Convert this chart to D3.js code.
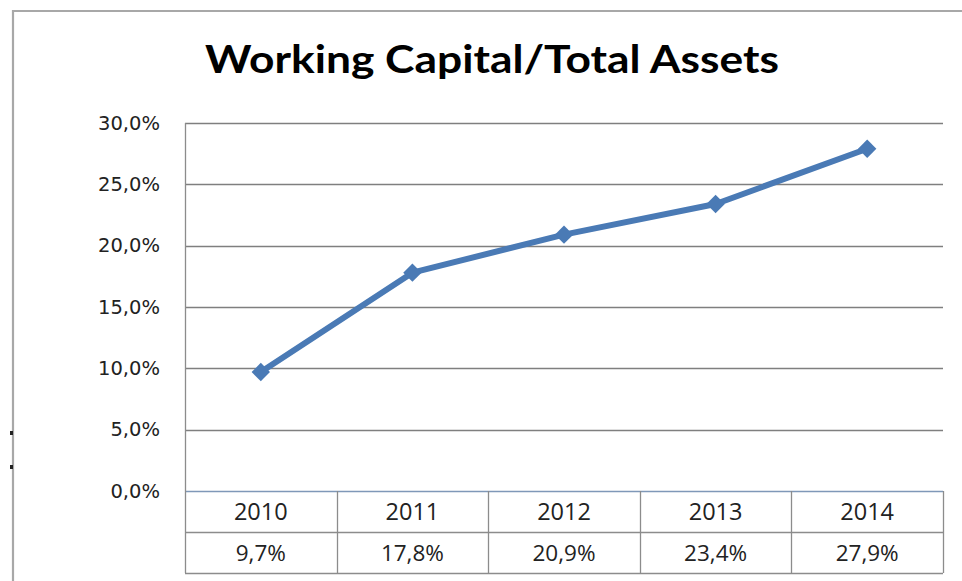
<!DOCTYPE html>
<html><head><meta charset="utf-8">
<script src="https://cdn.jsdelivr.net/npm/d3@7"></script>
<style>body{margin:0;background:#fff}svg{display:block}</style>
</head><body>
<script>
const title = "Working Capital/Total Assets";
const years = ["2010","2011","2012","2013","2014"];
const values = [0.097, 0.178, 0.209, 0.234, 0.279];
const yTicks = [0, 0.05, 0.10, 0.15, 0.20, 0.25, 0.30];

const W = 962, H = 581;
const svg = d3.select("body").append("svg").attr("width", W).attr("height", H);
const locale = d3.formatLocale({decimal: ",", thousands: ".", grouping: [3], currency: ["", "€"]});
const fmt = locale.format(".1%");

// outer chart border
svg.append("path").attr("d", "M13,581 V11 H962").attr("fill", "none").attr("stroke", "#a8a8a8").attr("stroke-width", 2.2);
svg.append("g").selectAll("rect").data([433, 467]).join("rect")
  .attr("x", 10).attr("y", d => d - 2).attr("width", 3).attr("height", 4).attr("fill", "#222");

const pLeft = 185, pRight = 943, pTop = 123, pBottom = 491;
const x = d3.scaleBand().domain(years).range([pLeft, pRight]);
const y = d3.scaleLinear().domain([0, 0.30]).range([pBottom, pTop]);

// title
svg.append("text").attr("x", 492).attr("y", 73).attr("text-anchor", "middle")
  .attr("font-family", "Lato, 'Open Sans', sans-serif").attr("font-weight", "bold")
  .attr("font-size", 37.5).attr("fill", "#000")
  .attr("textLength", 574).attr("lengthAdjust", "spacingAndGlyphs").text(title);

// gridlines
svg.append("g").selectAll("line").data(yTicks.filter(d => d > 0)).join("line")
  .attr("x1", pLeft).attr("x2", pRight).attr("y1", d => Math.round(y(d)) + 0.5).attr("y2", d => Math.round(y(d)) + 0.5)
  .attr("stroke", "#7f7f7f").attr("stroke-width", 1.4);

// y axis labels
const yAxis = d3.axisLeft(y).tickValues(yTicks).tickFormat(fmt).tickSize(0).tickPadding(25);
const gy = svg.append("g").attr("transform", `translate(${pLeft},0)`).call(yAxis);
gy.select(".domain").remove();
gy.selectAll("text").attr("font-family", "'DejaVu Sans', Verdana, sans-serif").attr("font-size", 19.5).attr("fill", "#222");

// data table
const rowH = 41;
const tableTop = pBottom, tableMid = pBottom + rowH, tableBot = pBottom + 2 * rowH;
svg.append("line").attr("x1", pLeft).attr("x2", pRight).attr("y1", tableTop + 0.5).attr("y2", tableTop + 0.5).attr("stroke", "#7f98b8").attr("stroke-width", 1.5);
svg.append("line").attr("x1", pLeft).attr("x2", pRight).attr("y1", tableMid + 0.5).attr("y2", tableMid + 0.5).attr("stroke", "#8c8c8c").attr("stroke-width", 1.3);
svg.append("line").attr("x1", pLeft).attr("x2", pRight).attr("y1", tableBot + 0.5).attr("y2", tableBot + 0.5).attr("stroke", "#8c8c8c").attr("stroke-width", 1.3);
const bounds = years.map(d => x(d)).concat([pRight]);
svg.append("g").selectAll("line").data(bounds).join("line")
  .attr("x1", d => Math.round(d) + 0.5).attr("x2", d => Math.round(d) + 0.5)
  .attr("y1", (d, i) => i === 0 ? pTop : tableTop).attr("y2", tableBot)
  .attr("stroke", "#8c8c8c").attr("stroke-width", 1.3);

const tf = "'Open Sans', 'DejaVu Sans', sans-serif";
svg.append("g").selectAll("text").data(years).join("text")
  .attr("x", d => x(d) + x.bandwidth() / 2).attr("y", tableTop + rowH / 2 + 8.5)
  .attr("text-anchor", "middle").attr("font-family", tf).attr("font-size", 23.5).attr("fill", "#222").text(d => d);
svg.append("g").selectAll("text").data(values).join("text")
  .attr("x", (d, i) => x(years[i]) + x.bandwidth() / 2).attr("y", tableMid + rowH / 2 + 8)
  .attr("text-anchor", "middle").attr("font-family", tf).attr("font-size", 22.5).attr("fill", "#222").text(d => fmt(d));

// line series
const pts = values.map((v, i) => [x(years[i]) + x.bandwidth() / 2, y(v)]);
svg.append("path").datum(pts).attr("d", d3.line()).attr("fill", "none")
  .attr("stroke", "#4a7ab5").attr("stroke-width", 6).attr("stroke-linejoin", "round");
svg.append("g").selectAll("path").data(pts).join("path")
  .attr("d", d3.symbol(d3.symbolDiamond2, 215)())
  .attr("transform", d => `translate(${d[0]},${d[1]})`).attr("fill", "#4a7ab5");
</script>
</body></html>
